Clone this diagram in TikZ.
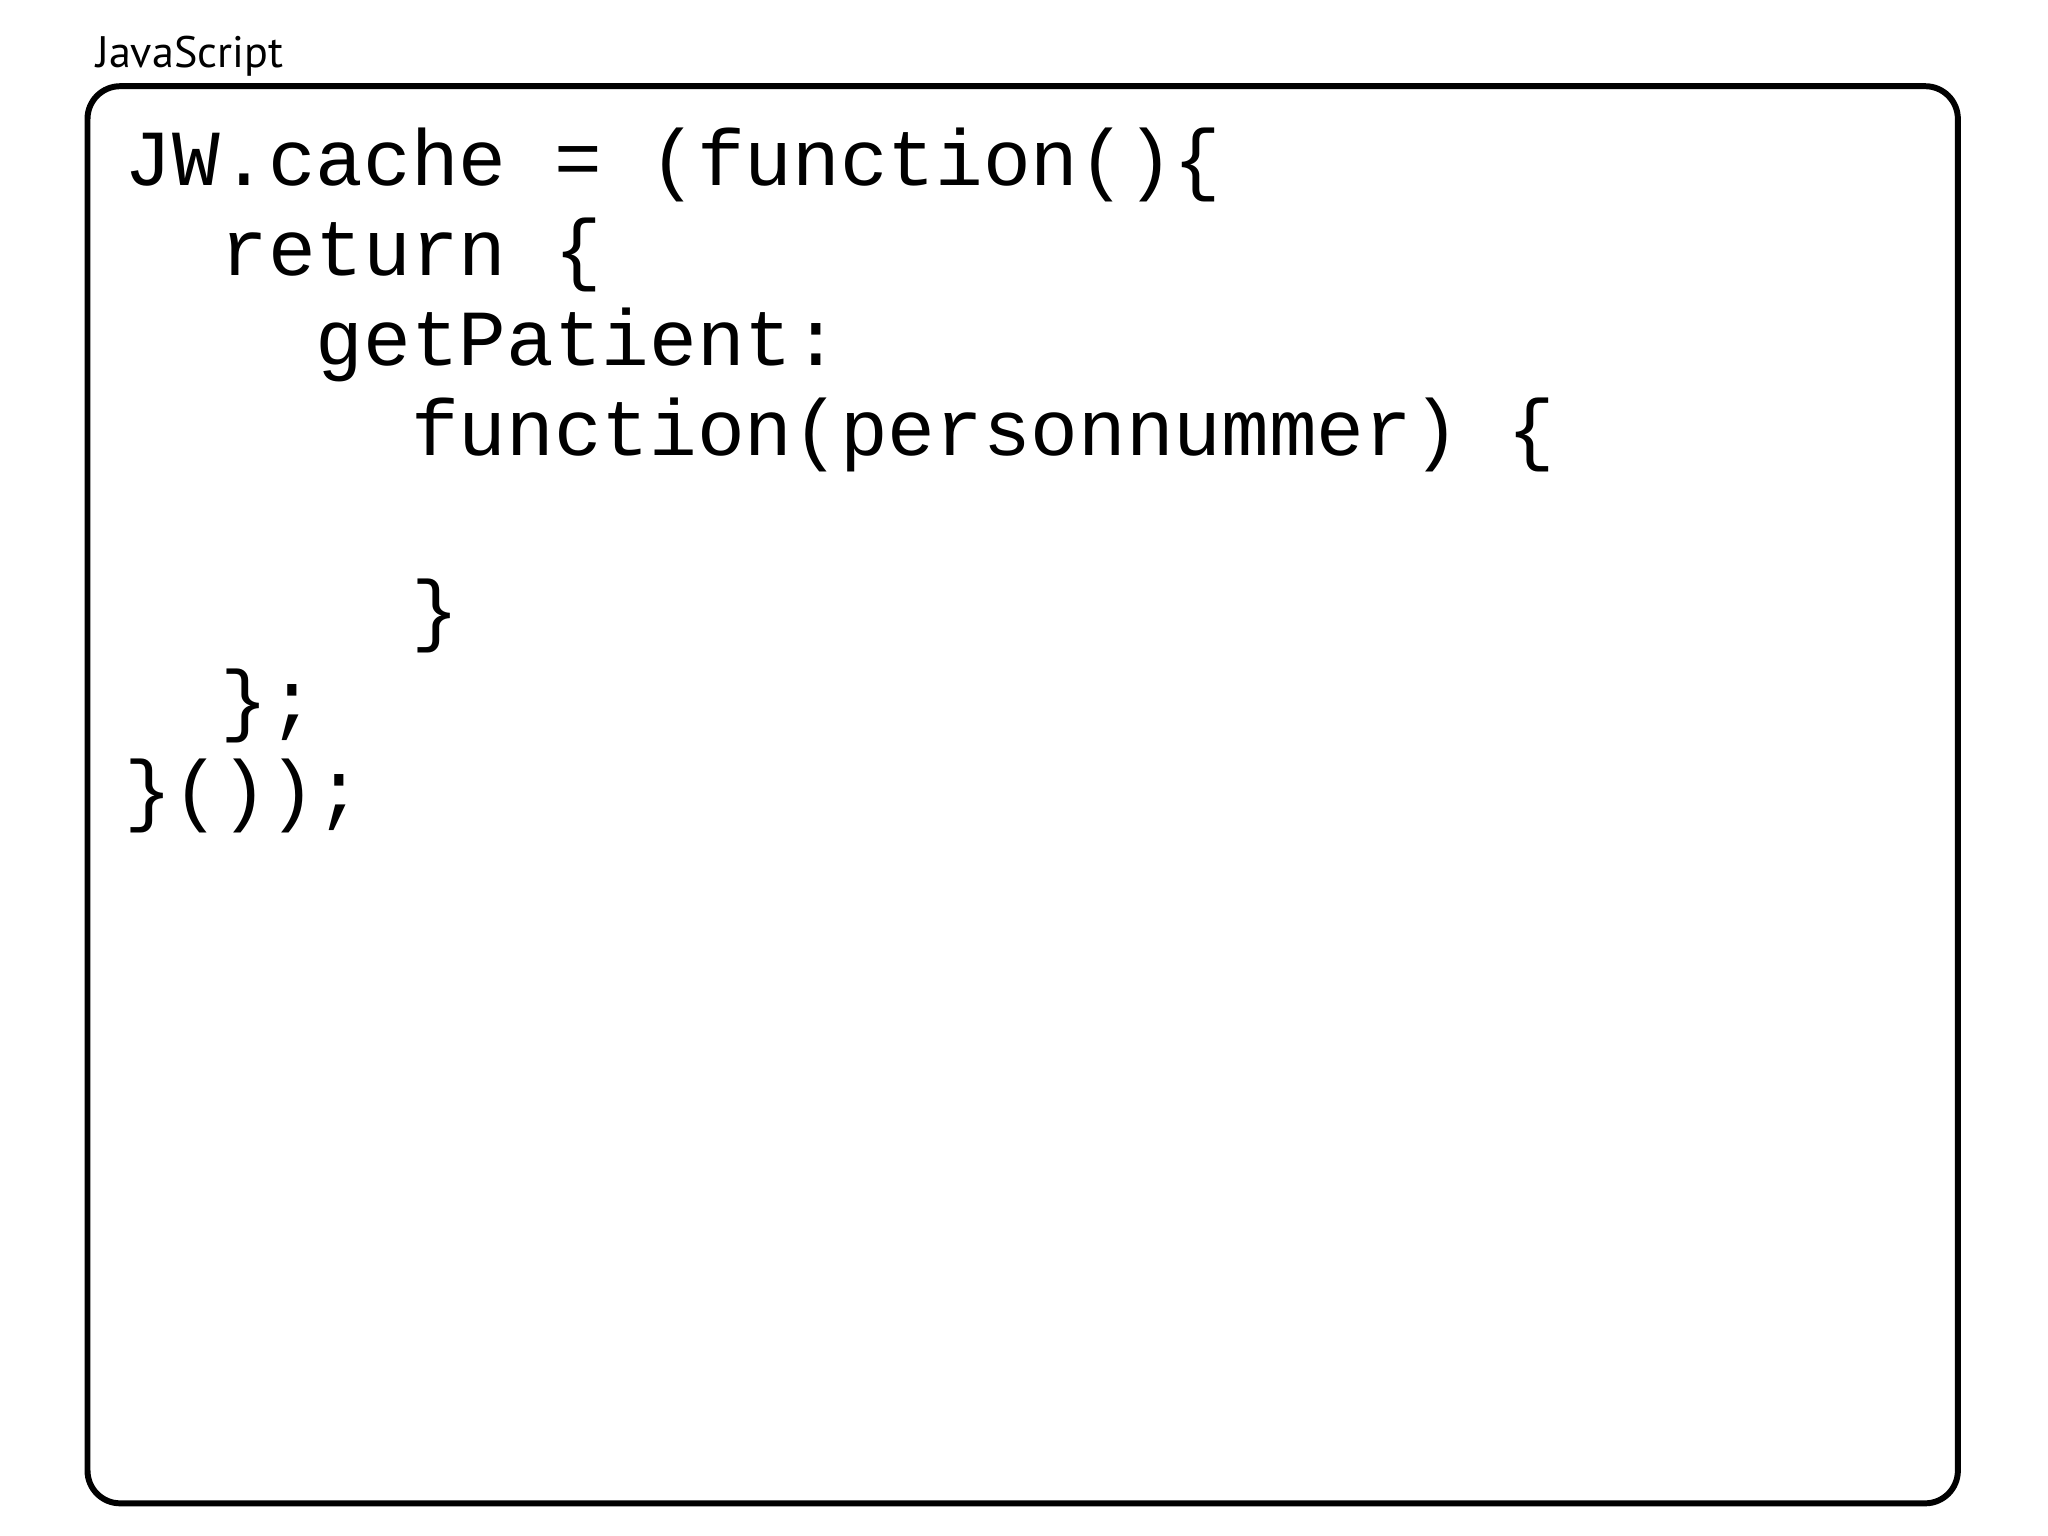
\documentclass[tikz,border=0pt]{standalone}
\usepackage{fontspec}
\setmainfont{PT Sans}
\setmonofont{Liberation Mono}
\begin{document}
\begin{tikzpicture}[x=0.01cm,y=-0.01cm,
  code/.style={anchor=base west,inner sep=0pt,font=\ttfamily\fontsize{17.3}{20}\selectfont},
  lbl/.style={anchor=base west,inner sep=0pt,font=\fontsize{9.6}{12}\selectfont}]
\useasboundingbox (0,0) rectangle (1568,1176);
\draw[line width=1.3pt,rounded corners=0.25cm] (67,66) rectangle (1499,1151);
\node[lbl] (title) at (73,52) {JavaScript};
\node[code] (l1) at (95,142) {JW.cache = (function()\{};
\node[code] (l2) at (95,211) {\hspace*{1.2em}return \{};
\node[code] (l3) at (95,280) {\hspace*{2.4em}getPatient:};
\node[code] (l4) at (95,349) {\hspace*{3.6em}function(personnummer) \{};
\node[code] (l6) at (95,487) {\hspace*{3.6em}\}};
\node[code] (l7) at (95,556) {\hspace*{1.2em}\};};
\node[code] (l8) at (95,625) {\}());};
\end{tikzpicture}
\end{document}
